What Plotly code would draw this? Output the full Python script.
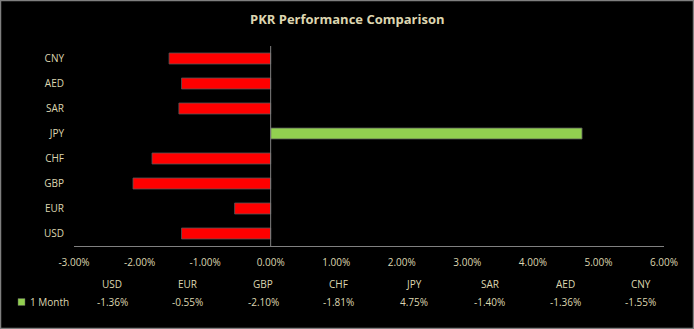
import plotly.graph_objects as go

currencies = ["USD", "EUR", "GBP", "CHF", "JPY", "SAR", "AED", "CNY"]
one_month = [-1.36, -0.55, -2.10, -1.81, 4.75, -1.40, -1.36, -1.55]
tick_values = [-3, -2, -1, 0, 1, 2, 3, 4, 5, 6]
tick_labels = ["-3.00%", "-2.00%", "-1.00%", "0.00%", "1.00%", "2.00%", "3.00%", "4.00%", "5.00%", "6.00%"]
series_name = "1 Month"
title = "PKR Performance Comparison"

W, H = 694, 329
L, R, T, B = 74, 30, 46, 83
pw, ph = W - L - R, H - T - B
txt = "#ddd6b0"
font = "Open Sans"

colors = ["#92D050" if v >= 0 else "#FF0000" for v in one_month]

fig = go.Figure()
fig.add_trace(go.Bar(
    y=currencies, x=one_month, orientation="h",
    marker=dict(color=colors, line=dict(color="#555555", width=0.8)),
    width=0.44, showlegend=False,
))

def px_x(p):
    return (p - L) / pw

def px_y(p):
    return 1 - (p - T) / ph

annotations = [dict(text="<b>%s</b>" % title, x=px_x(347), y=px_y(19), xref="paper", yref="paper",
                    showarrow=False, font=dict(size=13, color=txt, family=font), xanchor="center", yanchor="middle")]
col0, dcol = 112, 75.5
for i, (c, v) in enumerate(zip(currencies, one_month)):
    cx = col0 + i * dcol
    annotations.append(dict(text=c, x=px_x(cx), y=px_y(284), xref="paper", yref="paper", showarrow=False,
                            font=dict(size=10, color=txt, family=font), xanchor="center", yanchor="middle"))
    annotations.append(dict(text="%.2f%%" % v, x=px_x(cx), y=px_y(302), xref="paper", yref="paper", showarrow=False,
                            font=dict(size=10, color=txt, family=font), xanchor="center", yanchor="middle"))
annotations.append(dict(text=series_name, x=px_x(28), y=px_y(302), xref="paper", yref="paper", showarrow=False,
                        font=dict(size=10, color=txt, family=font), xanchor="left", yanchor="middle"))

shapes = [
    dict(type="rect", xref="paper", yref="paper", x0=px_x(18), x1=px_x(25), y0=px_y(298.5), y1=px_y(305.5),
         fillcolor="#92D050", line=dict(color="#555555", width=0.5)),
    dict(type="line", xref="x", yref="paper", x0=0, x1=0, y0=0, y1=1, line=dict(color="#808080", width=1)),
    dict(type="rect", xref="paper", yref="paper", x0=px_x(0.5), x1=px_x(W - 0.5), y0=px_y(0.5), y1=px_y(H - 0.5),
         line=dict(color="#7f7f7f", width=1.5), fillcolor="rgba(0,0,0,0)"),
]

fig.update_layout(
    width=W, height=H,
    margin=dict(l=L, r=R, t=T, b=B),
    paper_bgcolor="#000000", plot_bgcolor="#000000",
    font=dict(family=font, color=txt, size=10),
    xaxis=dict(range=[-3, 6], tickvals=tick_values, ticktext=tick_labels, showgrid=False, zeroline=False,
               showline=True, linecolor="#808080", linewidth=1, ticks="", tickfont=dict(size=10, color=txt),
               ticklabelstandoff=7, fixedrange=True),
    yaxis=dict(showgrid=False, zeroline=False, showline=False, ticks="", ticklen=0,
               tickfont=dict(size=10, color=txt), categoryorder="array", categoryarray=currencies,
               ticklabelstandoff=9, range=[-0.5, 7.5]),
    annotations=annotations,
    shapes=shapes,
)

fig.write_html("out.html")
